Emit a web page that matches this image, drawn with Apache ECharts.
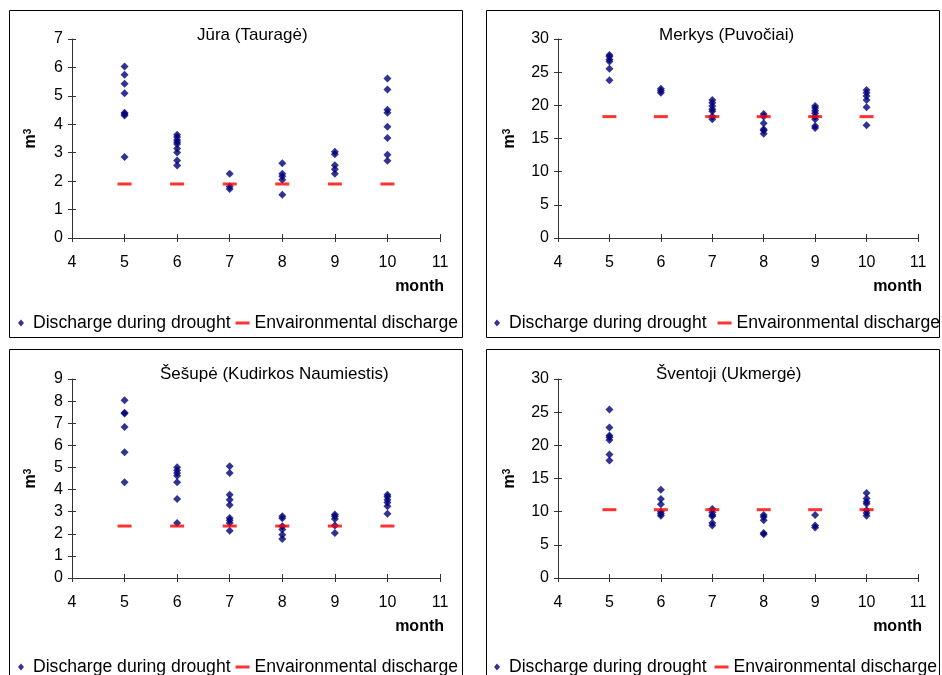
<!DOCTYPE html>
<html>
<head>
<meta charset="utf-8">
<script src="https://cdn.jsdelivr.net/npm/echarts@6/dist/echarts.min.js"></script>
<style>
  html, body { margin: 0; padding: 0; background: #fff; }
  #chart { width: 942px; height: 675px; }
</style>
</head>
<body>
<div id="chart"></div>
<script>
// months on the x axis
const months = [5, 6, 7, 8, 9, 10];

// discharge during drought, one list per month (5..10)
const juraDrought = [
  [6.03, 5.74, 5.43, 5.09, 4.41, 4.36, 4.31, 2.85],
  [3.63, 3.55, 3.45, 3.38, 3.31, 3.15, 3.01, 2.73, 2.55],
  [2.26, 1.81, 1.72],
  [2.63, 2.26, 2.17, 2.05, 1.52],
  [3.03, 2.95, 2.56, 2.42, 2.26],
  [5.61, 5.22, 4.51, 4.41, 3.91, 3.52, 2.93, 2.72]
];
const merkysDrought = [
  [27.6, 27.35, 26.9, 26.6, 25.5, 23.8],
  [22.5, 22.2, 21.9],
  [20.8, 20.4, 19.9, 19.4, 19.1, 18.3, 17.9],
  [18.7, 18.3, 17.3, 16.4, 16.2, 15.7],
  [19.9, 19.6, 19.2, 18.8, 18.3, 17.9, 16.9, 16.6],
  [22.3, 21.9, 21.4, 20.8, 19.7, 17.0]
];
const sesupeDrought = [
  [8.04, 7.47, 7.44, 6.83, 5.69, 4.33],
  [5.01, 4.87, 4.75, 4.63, 4.33, 3.57, 2.49],
  [5.05, 4.75, 3.77, 3.54, 3.30, 2.71, 2.61, 2.49, 2.14],
  [2.79, 2.70, 2.34, 2.19, 1.96, 1.76],
  [2.87, 2.79, 2.67, 2.37, 2.04],
  [3.77, 3.67, 3.54, 3.42, 3.24, 2.91]
];
const sventojiDrought = [
  [25.4, 22.7, 21.5, 21.2, 20.8, 18.6, 17.7],
  [13.3, 11.9, 11.1, 10.0, 9.7, 9.4],
  [10.4, 9.9, 9.5, 9.3, 8.3, 7.9],
  [9.5, 9.2, 8.7, 6.8, 6.6],
  [9.5, 7.9, 7.6],
  [12.8, 12.0, 11.5, 11.2, 10.2, 9.8, 9.4]
];

// environmental discharge per month (5..10)
const juraEnv = [1.9, 1.9, 1.9, 1.9, 1.9, 1.9];
const merkysEnv = [18.3, 18.3, 18.3, 18.3, 18.3, 18.3];
const sesupeEnv = [2.35, 2.35, 2.35, 2.35, 2.35, 2.35];
const sventojiEnv = [10.3, 10.3, 10.3, 10.3, 10.3, 10.3];

const titles = ['Jūra (Tauragė)', 'Merkys (Puvočiai)', 'Šešupė (Kudirkos Naumiestis)', 'Šventoji (Ukmergė)'];
const yMax = [7, 30, 9, 30];
const yStep = [1, 5, 1, 5];
const droughtName = 'Discharge during drought';
const envName = 'Envaironmental discharge';

const panels = [
  { drought: juraDrought, env: juraEnv },
  { drought: merkysDrought, env: merkysEnv },
  { drought: sesupeDrought, env: sesupeEnv },
  { drought: sventojiDrought, env: sventojiEnv }
];

// layout of the four panels
const boxes = [
  { x: 9.5, y: 10.5, w: 453, h: 327 },
  { x: 486.5, y: 10.5, w: 453, h: 327 },
  { x: 9.5, y: 349.5, w: 453, h: 400 },
  { x: 486.5, y: 349.5, w: 453, h: 400 }
];
const grids = [
  { left: 72, top: 39, width: 368, height: 199 },
  { left: 558, top: 39, width: 360, height: 199 },
  { left: 72, top: 379, width: 368, height: 199 },
  { left: 558, top: 379, width: 360, height: 199 }
];
const titlePos = [[197, 27], [659, 27], [160, 366], [656, 366]];
const nameGaps = [33, 40, 33, 40];
const legendPos = [
  { left: 13, top: 309, gap: 5 },
  { left: 489, top: 309, gap: 11 },
  { left: 13, top: 653, gap: 5 },
  { left: 489, top: 653, gap: 8 }
];

const font = '"Liberation Sans", Arial, sans-serif';
const axisColor = '#333';

const chart = echarts.init(document.getElementById('chart'));

const xAxis = [];
const yAxis = [];
const series = [];
const legend = [];
const title = [];

panels.forEach((p, i) => {
  // main axes: line, outer ticks, labels
  xAxis.push({
    type: 'value', gridIndex: i, min: 4, max: 11, interval: 1,
    axisLine: { onZero: false, lineStyle: { color: axisColor } },
    axisTick: { length: 4, lineStyle: { color: axisColor } },
    axisLabel: { color: '#000', fontSize: 16, fontFamily: font, margin: 17 },
    splitLine: { show: false },
    name: 'month', nameLocation: 'end', nameGap: 4,
    nameTextStyle: { color: '#000', fontSize: 16, fontWeight: 'bold', fontFamily: font,
      align: 'right', verticalAlign: 'top', padding: [41, 0, 0, 0] }
  });
  yAxis.push({
    type: 'value', gridIndex: i, min: 0, max: yMax[i], interval: yStep[i],
    axisLine: { show: true, onZero: false, lineStyle: { color: axisColor } },
    axisTick: { show: true, length: 4, lineStyle: { color: axisColor } },
    axisLabel: { color: '#000', fontSize: 16, fontFamily: font, margin: 9 },
    splitLine: { show: false },
    name: '{b|m}{s|3}', nameLocation: 'middle', nameGap: nameGaps[i], nameRotate: 90,
    nameTextStyle: {
      fontFamily: font,
      rich: {
        b: { fontSize: 16, fontWeight: 'bold', color: '#000', fontFamily: font },
        s: { fontSize: 10, fontWeight: 'bold', color: '#000', fontFamily: font, verticalAlign: 'top', padding: [0, 0, 6, 0] }
      }
    }
  });
});

// second set of axes only for the inner half of the cross ticks
panels.forEach((p, i) => {
  xAxis.push({
    type: 'value', gridIndex: i, min: 4, max: 11, interval: 1, position: 'bottom',
    axisLine: { show: false }, axisLabel: { show: false }, splitLine: { show: false },
    axisTick: { inside: true, length: 4, lineStyle: { color: axisColor } }
  });
  yAxis.push({
    type: 'value', gridIndex: i, min: 0, max: yMax[i], interval: yStep[i], position: 'left',
    axisLine: { show: false }, axisLabel: { show: false }, splitLine: { show: false },
    axisTick: { show: true, inside: true, length: 4, lineStyle: { color: axisColor } }
  });
});

panels.forEach((p, i) => {
  const pts = [];
  p.drought.forEach((vals, m) => vals.forEach(v => pts.push([months[m], v])));
  series.push({
    name: droughtName, type: 'scatter', xAxisIndex: i, yAxisIndex: i,
    symbol: 'diamond', symbolSize: [8, 8],
    itemStyle: { color: '#000078' },
    data: pts, z: 2, silent: true
  });
  series.push({
    name: envName, type: 'scatter', xAxisIndex: i, yAxisIndex: i,
    symbol: 'rect', symbolSize: [14, 3],
    itemStyle: { color: '#ff0000' },
    data: months.map((m, k) => [m, p.env[k]]), z: 3, silent: true
  });

  title.push({
    text: titles[i], left: titlePos[i][0], top: titlePos[i][1], padding: 0,
    textStyle: { fontSize: 17, fontWeight: 'normal', color: '#000', fontFamily: font }
  });

  const lp = legendPos[i];
  legend.push({
    left: lp.left, top: lp.top, width: 520, itemWidth: 14, itemHeight: 7, itemGap: lp.gap,
    selectedMode: false,
    textStyle: { fontSize: 17.6, color: '#000', fontFamily: font },
    data: [
      { name: droughtName, icon: 'path://M3,0L6,3.5L3,7L0,3.5Z', itemStyle: { color: '#000078' } },
      { name: envName, icon: 'path://M0,0H14V3H0Z', itemStyle: { color: '#ff0000' } }
    ]
  });
});

chart.setOption({
  animation: false,
  backgroundColor: '#fff',
  title,
  grid: grids,
  xAxis,
  yAxis,
  legend,
  series,
  graphic: boxes.map(b => ({
    type: 'rect', silent: true, z: 0,
    shape: { x: b.x, y: b.y, width: b.w, height: b.h },
    style: { fill: 'none', stroke: '#000', lineWidth: 1 }
  }))
});
</script>
</body>
</html>
